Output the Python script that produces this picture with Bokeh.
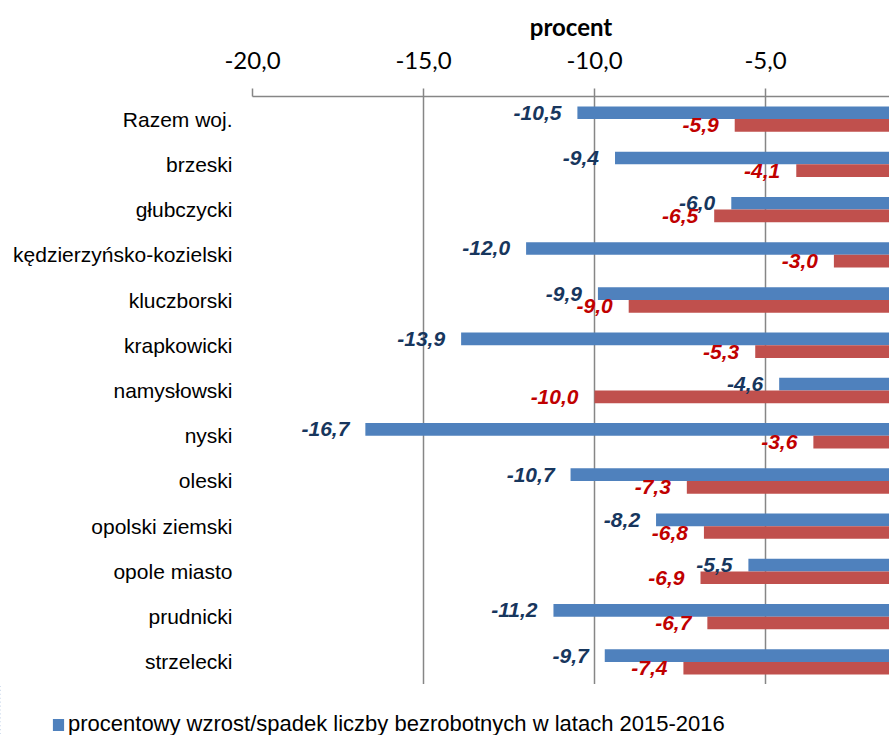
from bokeh.plotting import figure
from bokeh.models import ColumnDataSource, FactorRange, Range1d, FixedTicker, Legend, LegendItem
from bokeh.transform import dodge
from bokeh.embed import file_html
from bokeh.resources import INLINE
from bokeh.core.properties import value

categories = ["Razem woj.", "brzeski", "głubczycki", "kędzierzyńsko-kozielski",
              "kluczborski", "krapkowicki", "namysłowski", "nyski", "oleski",
              "opolski ziemski", "opole miasto", "prudnicki", "strzelecki"]
change_2015_2016 = [-10.5, -9.4, -6.0, -12.0, -9.9, -13.9, -4.6, -16.7, -10.7, -8.2, -5.5, -11.2, -9.7]
change_second = [-5.9, -4.1, -6.5, -3.0, -9.0, -5.3, -10.0, -3.6, -7.3, -6.8, -6.9, -6.7, -7.4]
tick_values = [-20, -15, -10, -5]
tick_labels = ["-20,0", "-15,0", "-10,0", "-5,0"]
legend_label = "procentowy wzrost/spadek liczby bezrobotnych w latach 2015-2016"
axis_title = "procent"

BLUE = "#4F81BD"
RED = "#C0504D"
GRAY = "#868686"


def fmt(v):
    return f"{v:.1f}".replace(".", ",")


src = ColumnDataSource(dict(
    cat=categories,
    blue=change_2015_2016,
    red=change_second,
    zero=[0] * len(categories),
    blue_lbl=[fmt(v) for v in change_2015_2016],
    red_lbl=[fmt(v) for v in change_second],
))

p = figure(width=889, height=684,
           y_range=FactorRange(*reversed(categories)),
           x_range=Range1d(-20, -1.374),
           x_axis_location="above",
           output_backend="svg", toolbar_location=None,
           min_border_left=252, min_border_right=0,
           min_border_top=96, min_border_bottom=0)

p.outline_line_color = None
p.background_fill_color = "white"
p.border_fill_color = "white"

BAR_H = 0.28
OFF = 0.14
blue_r = p.hbar(y=dodge("cat", OFF, range=p.y_range), left="blue", right="zero",
                height=BAR_H, fill_color=BLUE, line_color=None, source=src)
red_r = p.hbar(y=dodge("cat", -OFF, range=p.y_range), left="red", right="zero",
               height=BAR_H, fill_color=RED, line_color=None, source=src)

p.text(x="blue", y=dodge("cat", OFF, range=p.y_range), text="blue_lbl",
       x_offset=-16, text_align="right", text_baseline="middle",
       text_font=value("Liberation Sans"), text_font_style="bold italic",
       text_font_size="21px", text_color="#17365D", source=src)
p.text(x="red", y=dodge("cat", -OFF, range=p.y_range), text="red_lbl",
       x_offset=-16, text_align="right", text_baseline="middle",
       text_font=value("Liberation Sans"), text_font_style="bold italic",
       text_font_size="21px", text_color="#C00000", source=src)

# x axis (top)
xa = p.xaxis[0]
xa.ticker = FixedTicker(ticks=tick_values)
xa.major_label_overrides = {v: l for v, l in zip(tick_values, tick_labels)}
xa.axis_label = axis_title
xa.axis_label_text_font = "Lato"
xa.axis_label_text_font_style = "bold"
xa.axis_label_text_font_size = "24px"
xa.axis_label_text_color = "#000000"
xa.axis_label_standoff = 8
xa.major_label_text_font = "Lato"
xa.major_label_text_font_size = "24px"
xa.major_label_text_color = "#000000"
xa.major_label_standoff = 20
xa.major_tick_out = 8
xa.major_tick_in = 0
xa.minor_tick_line_color = None
xa.axis_line_color = GRAY
xa.axis_line_width = 1.5
xa.major_tick_line_color = GRAY
xa.major_tick_line_width = 1.5

# y axis
ya = p.yaxis[0]
ya.axis_line_color = None
ya.major_tick_line_color = None
ya.minor_tick_line_color = None
ya.major_label_text_font = "Liberation Sans"
ya.major_label_text_font_size = "21px"
ya.major_label_text_color = "#000000"
ya.major_label_standoff = 14

p.xgrid.ticker = FixedTicker(ticks=tick_values)
p.xgrid.grid_line_color = GRAY
p.xgrid.grid_line_width = 1.5
p.ygrid.grid_line_color = None

# legend strip (separate root so it is not aligned to the chart frame)
p2 = figure(width=889, height=51, x_range=Range1d(100, 200),
            y_range=FactorRange(*reversed(categories)),
            x_axis_type=None, y_axis_type=None,
            output_backend="svg", toolbar_location=None,
            min_border=0, min_border_left=0, min_border_right=0,
            min_border_top=0, min_border_bottom=0)
p2.outline_line_color = None
p2.grid.grid_line_color = None
p2.background_fill_color = "white"
p2.border_fill_color = "white"
leg_r = p2.hbar(y="cat", left="blue", right="zero", height=BAR_H,
                fill_color=BLUE, line_color=None, source=src)
legend = Legend(items=[LegendItem(label=legend_label, renderers=[leg_r])],
                location=(51, -2), orientation="horizontal",
                border_line_color=None, background_fill_alpha=0,
                padding=0, margin=0, spacing=0, label_standoff=3,
                glyph_width=14, glyph_height=15,
                label_text_font="Liberation Sans", label_text_font_size="22px",
                label_text_color="#000000")
p2.add_layout(legend, "center")

open("out.html", "w").write(file_html((p, p2), INLINE))
